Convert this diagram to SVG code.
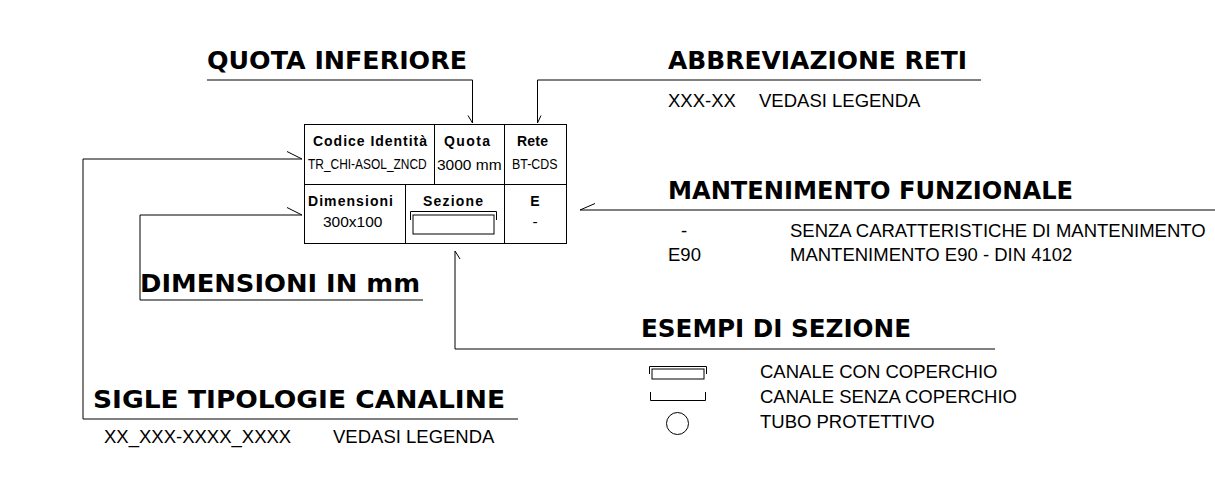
<svg xmlns="http://www.w3.org/2000/svg" width="1215" height="478" viewBox="0 0 1215 478">
<style>
.h{font-family:"DejaVu Sans",Verdana,sans-serif;font-weight:bold;font-size:24px;fill:#000}
.t{font-family:"Liberation Sans",Arial,sans-serif;font-size:18.5px;fill:#000}
.tb{font-family:"Liberation Sans",Arial,sans-serif;font-weight:bold;font-size:14px;fill:#000}
.tc{font-family:"Liberation Sans",Arial,sans-serif;font-size:15.5px;fill:#000}
.ln{fill:none;stroke:#000;stroke-width:1}
.cell{fill:#fff;stroke:#000;stroke-width:1}
</style>
<rect width="1215" height="478" fill="#fff"/>

<g id="connectors" class="ln">
  <path d="M207,80 H472.5 V123"/>
  <path d="M468,115.5 L472.5,123"/>
  <path d="M981,80 H537.5 V123"/>
  <path d="M541,115.5 L537.5,123"/>
  <path d="M518,419 H83 V159 H302"/>
  <path d="M287,151.5 L302,159"/>
  <path d="M423,300 H140 V215 H302"/>
  <path d="M287,207.5 L302,215"/>
  <path d="M995,349 H455 V251"/>
  <path d="M460,259 L455,251"/>
  <path d="M1215,210 H580"/>
  <path d="M595,203.5 L580,210"/>
</g>

<g id="table">
  <g id="cell-codice">
    <rect class="cell" x="304.5" y="124.5" width="130" height="60"/>
    <text class="tb" x="313" y="146" textLength="114" lengthAdjust="spacing">Codice Identità</text>
    <text class="tc" transform="translate(308,169) scale(0.77,1)">TR_CHI-ASOL_ZNCD</text>
  </g>
  <g id="cell-quota">
    <rect class="cell" x="434.5" y="124.5" width="70" height="60"/>
    <text class="tb" x="444" y="146" textLength="46" lengthAdjust="spacing">Quota</text>
    <text class="tc" transform="translate(437,169.5) scale(1,1)">3000 mm</text>
  </g>
  <g id="cell-rete">
    <rect class="cell" x="504.5" y="124.5" width="62" height="60"/>
    <text class="tb" x="517" y="146" textLength="31" lengthAdjust="spacing">Rete</text>
    <text class="tc" transform="translate(512,169) scale(0.8,1)">BT-CDS</text>
  </g>
  <g id="cell-dimensioni">
    <rect class="cell" x="304.5" y="184.5" width="101" height="59"/>
    <text class="tb" x="308" y="206" textLength="85" lengthAdjust="spacing">Dimensioni</text>
    <text class="tc" x="323" y="227">300x100</text>
  </g>
  <g id="cell-sezione">
    <rect class="cell" x="405.5" y="184.5" width="99" height="59"/>
    <text class="tb" x="423" y="206" textLength="60" lengthAdjust="spacing">Sezione</text>
    <path class="ln" d="M410.5,220 V211.5 H496.5 V220"/>
    <rect class="ln" x="413" y="215" width="81" height="19"/>
  </g>
  <g id="cell-e">
    <rect class="cell" x="504.5" y="184.5" width="62" height="59"/>
    <text class="tb" x="535" y="206" text-anchor="middle">E</text>
    <text class="tc" x="535" y="227" text-anchor="middle">-</text>
  </g>
</g>

<g id="quota-inferiore">
  <text class="h" x="207" y="69" textLength="260" lengthAdjust="spacingAndGlyphs">QUOTA INFERIORE</text>
</g>

<g id="abbreviazione-reti">
  <text class="h" x="668" y="69" textLength="299" lengthAdjust="spacingAndGlyphs">ABBREVIAZIONE RETI</text>
  <text class="t" x="668" y="107">XXX-XX</text>
  <text class="t" x="759" y="107">VEDASI LEGENDA</text>
</g>

<g id="mantenimento-funzionale">
  <text class="h" x="668" y="199" textLength="405" lengthAdjust="spacingAndGlyphs">MANTENIMENTO FUNZIONALE</text>
  <text class="t" x="684" y="237" text-anchor="middle">-</text>
  <text class="t" x="790" y="237">SENZA CARATTERISTICHE DI MANTENIMENTO</text>
  <text class="t" x="668" y="261">E90</text>
  <text class="t" x="790" y="261">MANTENIMENTO E90 - DIN 4102</text>
</g>

<g id="dimensioni-in-mm">
  <text class="h" x="140" y="292" textLength="280" lengthAdjust="spacingAndGlyphs">DIMENSIONI IN mm</text>
</g>

<g id="esempi-di-sezione">
  <text class="h" x="641" y="337" textLength="270" lengthAdjust="spacingAndGlyphs">ESEMPI DI SEZIONE</text>
  <path class="ln" d="M649.5,374 V366.5 H706.5 V374"/>
  <rect class="ln" x="652" y="369" width="52" height="10"/>
  <text class="t" x="760" y="378">CANALE CON COPERCHIO</text>
  <path class="ln" d="M650.5,392 V400.5 H705.5 V392"/>
  <text class="t" x="760" y="403">CANALE SENZA COPERCHIO</text>
  <circle class="ln" cx="677.5" cy="423.5" r="11"/>
  <text class="t" x="760" y="428">TUBO PROTETTIVO</text>
</g>

<g id="sigle-tipologie-canaline">
  <text class="h" x="93" y="408" textLength="412" lengthAdjust="spacingAndGlyphs">SIGLE TIPOLOGIE CANALINE</text>
  <text class="t" x="104" y="443">XX_XXX-XXXX_XXXX</text>
  <text class="t" x="333" y="443">VEDASI LEGENDA</text>
</g>
</svg>
